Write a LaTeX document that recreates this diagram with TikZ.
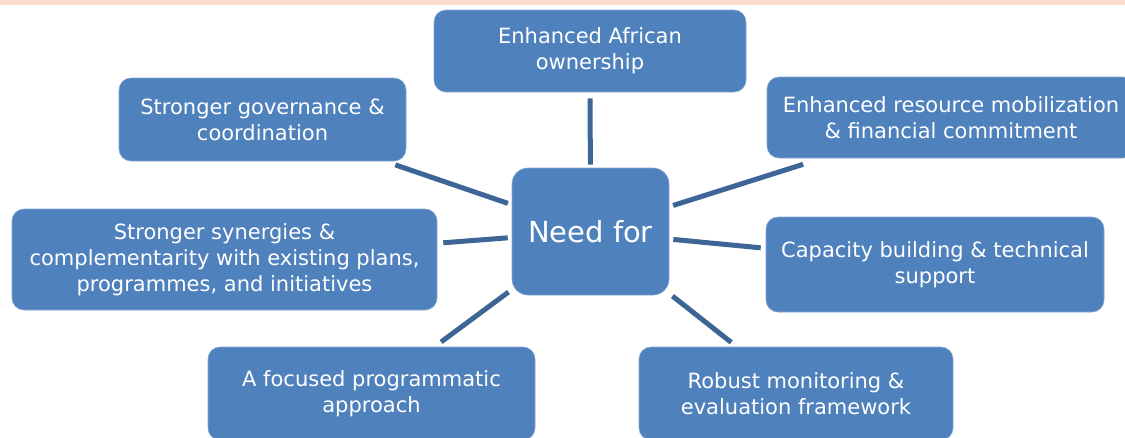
\documentclass[tikz,border=0pt]{standalone}
\usepackage{fontspec}
\setmainfont{DejaVu Sans}

\definecolor{boxblue}{HTML}{4F81BD}
\definecolor{linkblue}{HTML}{3D6596}
\definecolor{bandpeach}{HTML}{FBDDD0}

\begin{document}
\begin{tikzpicture}[x=1pt,y=-1pt,
  need/.style={rounded corners=12pt,fill=boxblue,draw=boxblue!70!white,line width=0.6pt,
    text=white,align=center,font=\fontsize{21}{26}\selectfont,inner sep=0pt},
  hub/.style={need,rounded corners=16pt,font=\fontsize{29}{34}\selectfont},
  link/.style={draw=linkblue,line width=5pt,shorten <=4pt,shorten >=6pt}]
  \useasboundingbox (0,0) rectangle (1125,437);
  \clip (0,0) rectangle (1125,437);
  \fill[bandpeach] (0,0) rectangle (1125,5);

  \node[hub,minimum width=157pt,minimum height=127pt] (hub) at (590.5,231.5) {Need for};
  \node[need,minimum width=312pt,minimum height=82pt] (own) at (590,51) {Enhanced African\\ownership};
  \node[need,minimum width=287pt,minimum height=83pt] (gov) at (262.5,119.5) {Stronger governance \&\\coordination};
  \node[need,minimum width=368pt,minimum height=81pt] (res) at (951,117.5) {Enhanced resource mobilization\\\& financial commitment};
  \node[need,minimum width=425pt,minimum height=101pt] (syn) at (224.5,259.5) {Stronger synergies \&\\complementarity with existing plans,\\programmes, and initiatives};
  \node[need,minimum width=338pt,minimum height=95pt] (cap) at (935,264.5) {Capacity building \& technical\\support};
  \node[need,minimum width=327pt,minimum height=93pt] (foc) at (371.5,393.5) {A focused programmatic\\approach};
  \node[need,minimum width=314pt,minimum height=93pt] (mon) at (796,393.5) {Robust monitoring \&\\evaluation framework};

  \draw[link,shorten <=3pt] (hub) -- (own);
  \draw[link,shorten >=11pt] (hub) -- (gov);
  \draw[link,shorten >=20pt] (hub) -- (res);
  \draw[link] (hub) -- (syn);
  \draw[link,shorten >=5pt] (hub) -- (cap);
  \draw[link,shorten >=8pt] (hub) -- (foc);
  \draw[link,shorten >=7pt] (hub) -- (mon);
\end{tikzpicture}
\end{document}
